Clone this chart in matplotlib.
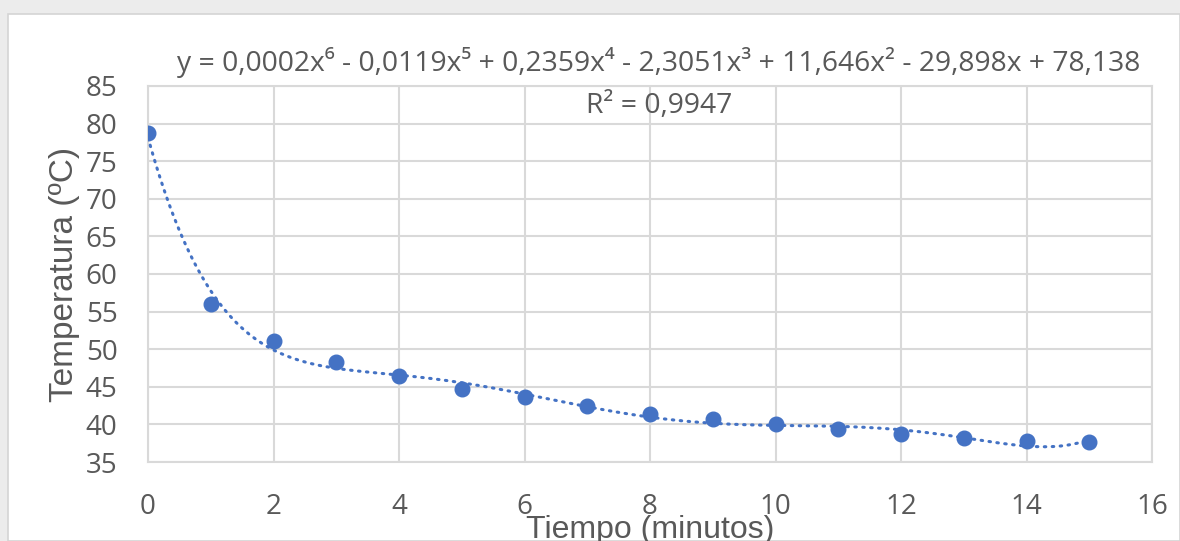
import numpy as np
import matplotlib.pyplot as plt
from matplotlib.patches import Rectangle

# data
tiempo = [0, 1, 2, 3, 4, 5, 6, 7, 8, 9, 10, 11, 12, 13, 14, 15]
temperatura = [78.7, 56.0, 51.1, 48.3, 46.4, 44.7, 43.6, 42.4, 41.4, 40.7,
               40.0, 39.4, 38.7, 38.2, 37.8, 37.7]

ecuacion = "y = 0,0002x⁶ - 0,0119x⁵ + 0,2359x⁴ - 2,3051x³ + 11,646x² - 29,898x + 78,138"
r2_text = "R² = 0,9947"

azul = "#4472C4"
gris = "#595959"
grid_c = "#d9d9d9"

fig = plt.figure(figsize=(11.8, 5.41), dpi=100)
fig.patch.set_facecolor("#ececec")
# white chart box
fig.patches.append(Rectangle((8 / 1180, 0), 1 - 8 / 1180, 1 - 14 / 541,
                             transform=fig.transFigure, facecolor="white",
                             edgecolor="#d4d4d4", lw=1.2, zorder=-5))

ax = fig.add_axes([148 / 1180, 1 - 462 / 541, (1152 - 148) / 1180, (462 - 86) / 541])
ax.set_facecolor("white")

# polynomial trend line (degree 6)
coef = np.polyfit(tiempo, temperatura, 6)
xs = np.linspace(0, 15, 300)
ax.plot(xs, np.polyval(coef, xs), color=azul, lw=2.2,
        linestyle=(0, (0.5, 2.1)), dash_capstyle="round", zorder=3)

ax.plot(tiempo, temperatura, "o", color=azul, markersize=10.5, zorder=4)

ax.set_xlim(0, 16)
ax.set_ylim(35, 85)
ax.set_xticks(range(0, 17, 2))
ax.set_yticks(range(35, 86, 5))
ax.grid(True, color=grid_c, lw=1.5)
ax.set_axisbelow(True)
for s in ax.spines.values():
    s.set_color(grid_c)
    s.set_linewidth(1.5)
ax.tick_params(length=0, colors=gris, labelsize=20)
ax.tick_params(axis="y", pad=22)
ax.tick_params(axis="x", pad=22)
for lab in ax.get_xticklabels() + ax.get_yticklabels():
    lab.set_family("Open Sans")

ax.set_xlabel("Tiempo (minutos)", fontsize=23, color=gris,
              family="Liberation Sans", labelpad=-4)
ax.set_ylabel("Temperatura (ºC)", fontsize=24, color=gris,
              family="Liberation Sans", labelpad=4)

fig.text(659 / 1180, 1 - 63 / 541, ecuacion, ha="center", va="center",
         fontsize=20.3, color=gris, family=["Open Sans", "DejaVu Sans"])
fig.text(659 / 1180, 1 - 106 / 541, r2_text, ha="center", va="center",
         fontsize=20.3, color=gris, family=["Open Sans", "DejaVu Sans"])

fig.savefig("out.png", dpi=100, facecolor=fig.get_facecolor())
